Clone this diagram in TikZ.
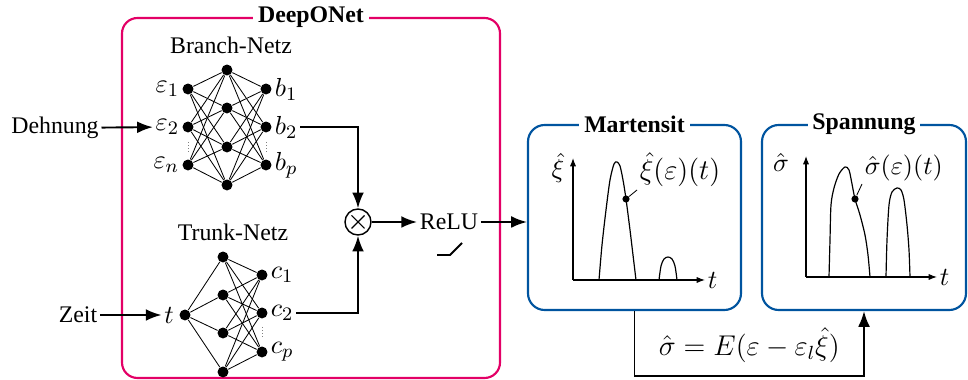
\documentclass[tikz,border=0pt]{standalone}
\usepackage{amsmath}
\usepackage{fontspec}
\setmainfont{Liberation Serif}
\usepackage{tikz}
\usetikzlibrary{arrows.meta, positioning, calc}
\definecolor{deepmag}{RGB}{227,0,102}
\definecolor{deepblue}{RGB}{0,84,159}

\begin{document}
\begin{tikzpicture}[
  x=0.42pt, y=-0.42pt, >=Latex, font=\fontsize{10}{12}\selectfont,
  neuron/.style={circle, fill, inner sep=0pt, minimum size=4.6pt},
  link/.style={line width=0.35pt},
  flow/.style={->, line width=0.8pt},
  lbl/.style={inner sep=1pt, font=\fontsize{11}{13}\selectfont},
  deepbox/.style={rectangle, rounded corners=6.5pt, draw=deepmag, line width=0.9pt,
                  minimum width=378*0.42pt, minimum height=360*0.42pt},
  outbox/.style={rectangle, rounded corners=7pt, draw=deepblue, line width=0.9pt,
                 minimum height=185*0.42pt},
  boxtitle/.style={fill=white, inner sep=2pt, font=\fontsize{10}{12}\selectfont\bfseries},
  axis/.style={-{Latex[length=3.5pt, width=2.6pt]}, line width=0.45pt},
  curve/.style={line width=0.5pt}]
  \useasboundingbox (0,0) rectangle (968,380);

  % frames
  \node[deepbox] (deep) at (311,198) {};
  \node[boxtitle] at (deep.north) {DeepONet};
  \node[outbox, minimum width=213*0.42pt] (mart) at (634.5,217.5) {};
  \node[boxtitle] at (mart.north) {Martensit};
  \node[outbox, minimum width=204*0.42pt] (spann) at (864,217.5) {};
  \node[boxtitle] at (spann.north) {Spannung};

  % branch net
  \node (branch) at (231,45) {Branch-Netz};
  \foreach \y [count=\i] in {89,127,165} \node[neuron] (bi\i) at (188,\y) {};
  \foreach \y [count=\i] in {70,108,147,185} \node[neuron] (bh\i) at (227,\y) {};
  \foreach \y [count=\i] in {89,127,165} \node[neuron] (bo\i) at (266,\y) {};
  \foreach \i in {1,2,3}
    \foreach \j in {1,...,4} {
      \draw[link] (bi\i) -- (bh\j);
      \draw[link] (bh\j) -- (bo\i);
    }
  \node[lbl, left=0pt of bi1] (e1) {$\varepsilon_1$};
  \node[lbl, left=0pt of bi2] (e2) {$\varepsilon_2$};
  \node[lbl, left=0pt of bi3] (en) {$\varepsilon_n$};
  \node[lbl, right=0pt of bo1] (b1) {$b_1$};
  \node[lbl, right=0pt of bo2] (b2) {$b_2$};
  \node[lbl, right=0pt of bo3] (bp) {$b_p$};
  \draw[densely dotted, gray, line width=0.3pt] ($(bi2)+(0,15)$) -- ($(bi2)+(0,25)$);
  \draw[densely dotted, gray, line width=0.3pt] ($(bo2)+(0,15)$) -- ($(bo2)+(0,25)$);

  % trunk net
  \node (trunk) at (233,232) {Trunk-Netz};
  \node[neuron] (ti) at (185,315) {};
  \foreach \y [count=\i] in {257,295,333,372} \node[neuron] (th\i) at (223,\y) {};
  \foreach \y [count=\i] in {275,313,352} \node[neuron] (to\i) at (262,\y) {};
  \foreach \j in {1,...,4} {
    \draw[link] (ti) -- (th\j);
    \foreach \i in {1,2,3} \draw[link] (th\j) -- (to\i);
  }
  \node[lbl, left=1pt of ti] (tl) {$t$};
  \node[lbl, right=0pt of to1] (c1) {$c_1$};
  \node[lbl, right=0pt of to2] (c2) {$c_2$};
  \node[lbl, right=0pt of to3] (cp) {$c_p$};
  \draw[densely dotted, gray, line width=0.3pt] ($(to2)+(0,14)$) -- ($(to2)+(0,24)$);

  % inputs
  \node[inner sep=1pt] (dehn) at (55,128) {Dehnung};
  \node[inner sep=1pt] (zeit) at (78,315) {Zeit};
  \draw[flow] (dehn) -- (e2);
  \draw[flow] (zeit) -- (tl);

  % product and activation
  \node[circle, draw, line width=0.6pt, inner sep=0pt, minimum size=26*0.42pt] (mult) at (358,222) {};
  \draw[line width=0.45pt] ($(mult)+(-6.5,-6.5)$) -- ($(mult)+(6.5,6.5)$)
                           ($(mult)+(-6.5,6.5)$) -- ($(mult)+(6.5,-6.5)$);
  \draw[flow] (b2.east) -| (mult.north);
  \draw[flow] (c2.east) -| (mult.south);
  \node[inner sep=1pt] (relu) at (449,222) {ReLU};
  \draw[flow] (mult) -- (relu);
  \draw[line width=0.8pt] ($(relu)+(-12,33)$) -- ($(relu)+(1,33)$) -- ($(relu)+(13,21)$);
  \draw[flow] (relu.east) -- (relu.east -| mart.west);

  % martensite plot
  \coordinate (mo) at (573,280);
  \draw[axis] (mo) -- (705,280);
  \draw[axis] (mo) -- (573,158);
  \node[lbl] (xiy) at (558,168) {$\hat{\xi}$};
  \node[lbl, right=0pt of {(705,280)}] (xit) {$t$};
  \draw[curve] plot[smooth] coordinates {(599,280) (602,245) (606,210) (610,180) (614,164)
    (617,162) (620,166) (623,180) (626,199) (630,230) (633,255) (636,280)};
  \draw[curve] plot[smooth] coordinates {(659,280) (661,266) (664,259) (668,257) (672,259)
    (675,266) (677,280)};
  \node[circle, fill, inner sep=0pt, minimum size=3pt] (xidot) at (626,199) {};
  \node[lbl, anchor=south west, font=\fontsize{11.5}{13}\selectfont] (xil) at (637,190) {$\hat{\xi}(\varepsilon)(t)$};
  \draw[link] (xidot) -- (xil.south west);

  % stress plot
  \coordinate (so) at (806,277);
  \draw[axis] (so) -- (937,277);
  \draw[axis] (so) -- (806,156);
  \node[lbl] (sigy) at (781,162) {$\hat{\sigma}$};
  \node[lbl, right=0pt of {(937,277)}] (sigt) {$t$};
  \draw[curve] plot[smooth] coordinates {(829,277) (830,240) (831,205) (834,188) (839,174)
    (845,167) (849,170) (852,184) (855,199) (860,215) (865,235) (868,255) (870,277)};
  \draw[curve] plot[smooth] coordinates {(886,277) (887,240) (889,205) (892,192) (897,188)
    (901,190) (904,200) (907,225) (909,250) (910,277)};
  \node[circle, fill, inner sep=0pt, minimum size=3pt] (sigdot) at (855,199) {};
  \node[lbl, anchor=south west] (sigl) at (862,184) {$\hat{\sigma}(\varepsilon)(t)$};
  \draw[link] (sigdot) -- (sigl.south west);

  % feedback to stress
  \draw[flow] (mart.south) -- ++(0,65) -| node[pos=0.25, above=2pt, font=\fontsize{12}{14}\selectfont]
    {$\hat{\sigma} = E(\varepsilon-\varepsilon_l\hat{\xi})$} (spann.south);
\end{tikzpicture}
\end{document}
